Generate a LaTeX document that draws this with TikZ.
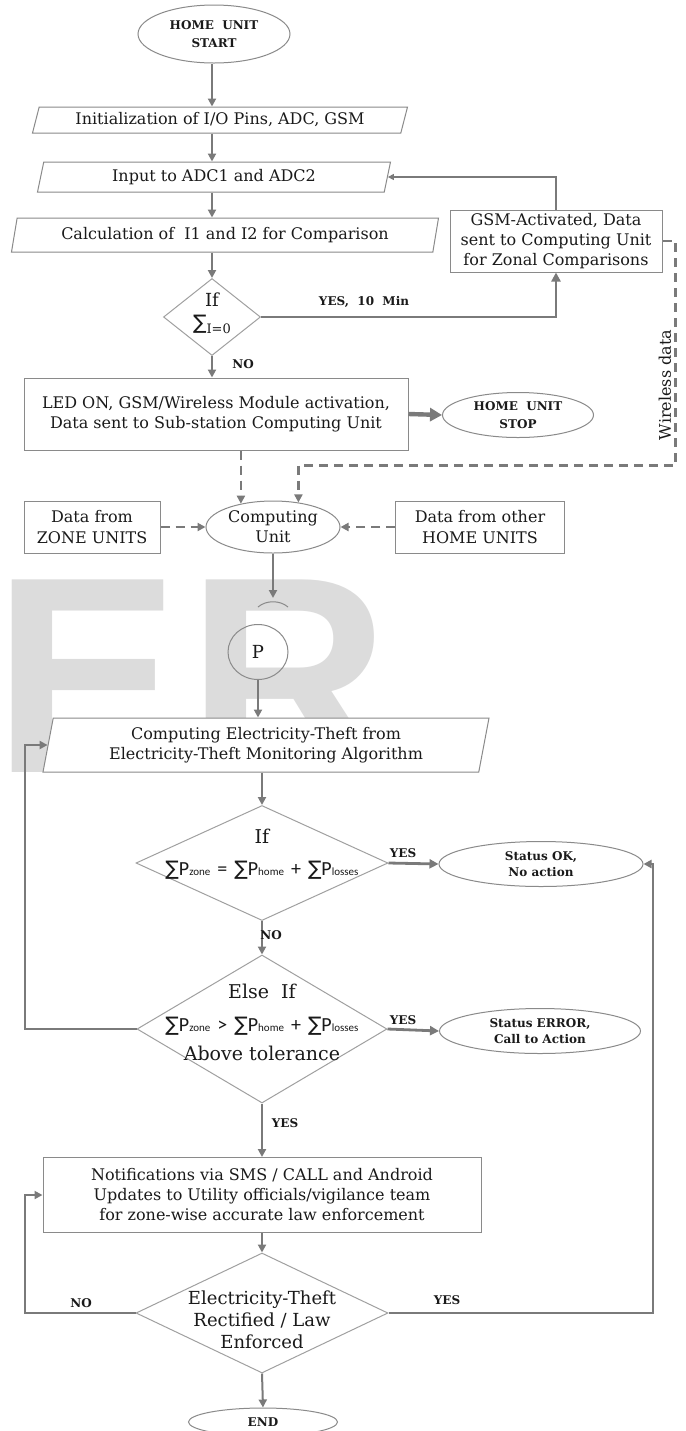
\documentclass[tikz,border=0pt]{standalone}
\usepackage{fontspec}
\setmainfont{DejaVu Serif}
\newfontfamily\sumfont{DejaVu Sans}
\newfontfamily\formfont{Carlito}
\newfontfamily\wmfont{Liberation Sans}
\usetikzlibrary{shapes.geometric,arrows.meta,calc}

\definecolor{ln}{HTML}{7A7A7A}
\definecolor{bd}{HTML}{8A8A8A}
\definecolor{dbd}{HTML}{A0A0A0}
\definecolor{wm}{HTML}{DCDCDC}
\definecolor{tx}{HTML}{1A1A1A}

\newcommand\mySP[1]{{\sumfont ∑}P{\fontsize{5.5}{5.5}\selectfont #1}}

\tikzset{
  base/.style={draw=bd, line width=0.5pt, fill=white, text=tx, inner sep=0pt, align=center,
    font=\fontsize{8}{10}\selectfont},
  boxnode/.style={base, rectangle},
  para/.style 2 args={base, trapezium, trapezium stretches body,
    trapezium left angle=#1, trapezium right angle=#2},
  oval/.style={base, ellipse},
  dia/.style={draw=dbd, line width=0.5pt, fill=white, diamond, inner sep=0pt},
  txt/.style={text=tx, inner sep=0pt, align=center},
  lbl/.style={text=tx, inner sep=0pt, font=\bfseries\fontsize{6}{9}\selectfont, align=center},
  flow/.style={draw=ln, line width=1pt, -{Triangle[length=4pt,width=4pt]}},
  flowmid/.style={draw=ln, line width=1.4pt, -{Triangle[length=4.5pt,width=4.5pt]}},
  flowbig/.style={draw=ln, line width=2.2pt, -{Triangle[length=6pt,width=6.5pt]}},
  flowthin/.style={draw=ln, line width=0.6pt, -{Triangle[length=3pt,width=3pt]}},
  dflow/.style={draw=ln, line width=1.3pt, dash pattern=on 4.5pt off 3pt, -{Triangle[length=4pt,width=4pt]}},
  wmark/.style={anchor=base west, inner sep=0pt, text=wm, font=\wmfont\bfseries\fontsize{140}{140}\selectfont}
}

\begin{document}
\begin{tikzpicture}[x=0.5pt,y=-0.5pt]
\fill[white] (0,0) rectangle (686,1431);
\useasboundingbox (0,0) rectangle (686,1431);

% watermark
\node[wmark] (wmE) at (-7,772) {E};
\node[wmark] (wmR) at (187,772) {R};

% axis helpers
\coordinate (ax) at (212,0);
\coordinate (lx) at (25,0);
\coordinate (rx) at (653,0);

% home unit part
\node[oval, minimum width=76pt, minimum height=29pt, font=\bfseries\fontsize{6}{9}\selectfont] (start) at (214,34) {HOME\ \ UNIT\\START};
\node[para={65}{115}, minimum width=187.5pt, minimum height=13pt] (init) at (220,120) {Initialization of I/O Pins, ADC, GSM};
\node[para={68}{112}, minimum width=176.5pt, minimum height=15pt] (input) at (214,177) {Input to ADC1 and ADC2};
\node[para={70}{110}, minimum width=213.5pt, minimum height=17pt] (calc) at (225,235) {Calculation of\ \ I1 and I2 for Comparison};
\node[dia, minimum width=48.5pt, minimum height=38.5pt] (d1) at (212,317) {};
\node[txt, font=\fontsize{9}{11.5}\selectfont] (d1t) at (212,313) {If\\{\sumfont\fontsize{10}{10}\selectfont ∑}\raisebox{-2pt}{\fontsize{6.5}{6.5}\selectfont I=0}};
\node[boxnode, minimum width=106pt, minimum height=31pt] (gsm) at (556,241) {GSM-Activated, Data\\sent to Computing Unit\\for Zonal Comparisons};
\node[boxnode, minimum width=192pt, minimum height=36pt] (led) at (216,414) {LED ON, GSM/Wireless Module activation,\\Data sent to Sub-station Computing Unit};
\node[oval, minimum width=75.5pt, minimum height=22.5pt, font=\bfseries\fontsize{6}{9}\selectfont] (stop) at (518,415) {HOME\ \ UNIT\\STOP};

% computing unit part
\node[oval, minimum width=67pt, minimum height=26pt, font=\fontsize{8}{10}\selectfont] (cu) at (273,527) {Computing\\Unit};
\node[boxnode, minimum width=68pt, minimum height=26pt, font=\fontsize{8}{10.5}\selectfont] (zone) at (92,527) {Data from\\ZONE UNITS};
\node[boxnode, minimum width=84.5pt, minimum height=26pt, font=\fontsize{8}{10.5}\selectfont] (homes) at (480,527) {Data from other\\HOME UNITS};
\coordinate (ptop) at (273,598);
\node[draw=bd, line width=0.5pt, ellipse, minimum width=30pt, minimum height=27.5pt, inner sep=0pt, text=tx, font=\fontsize{9}{9}\selectfont] (P) at (258,652) {P};

% algorithm part
\node[para={74}{106}, minimum width=223pt, minimum height=27pt] (comp) at (266,745) {Computing Electricity-Theft from\\Electricity-Theft Monitoring Algorithm};
\node[dia, minimum width=126pt, minimum height=57.5pt] (d2) at (262,863) {};
\node[txt, font=\fontsize{9.5}{9.5}\selectfont] (d2a) at (262,836) {If};
\node[txt, font=\formfont\fontsize{10}{10}\selectfont] (d2b) at (262,870) {\mySP{zone}\hspace{3.5pt}=\hspace{3.5pt}\mySP{home}\hspace{3.5pt}+\hspace{3.5pt}\mySP{losses}};
\node[oval, minimum width=102pt, minimum height=22.5pt, font=\bfseries\fontsize{6}{8}\selectfont] (ok) at (541,864) {Status OK,\\No action};

\node[dia, minimum width=125pt, minimum height=74pt] (d3) at (262,1029) {};
\node[txt, font=\fontsize{9.5}{9.5}\selectfont] (d3a) at (262,991) {Else\ \ If};
\node[txt, font=\formfont\fontsize{10}{10}\selectfont] (d3b) at (262,1026) {\mySP{zone}\hspace{3.5pt}>\hspace{3.5pt}\mySP{home}\hspace{3.5pt}+\hspace{3.5pt}\mySP{losses}};
\node[txt, font=\fontsize{9.5}{9.5}\selectfont] (d3c) at (262,1053) {Above tolerance};
\node[oval, minimum width=100.5pt, minimum height=22.5pt, font=\bfseries\fontsize{6}{8}\selectfont] (err) at (540,1031) {Status ERROR,\\Call to Action};

\node[boxnode, minimum width=219pt, minimum height=37.5pt] (notif) at (262,1195) {Notifications via SMS / CALL and Android\\Updates to Utility officials/vigilance team\\for zone-wise accurate law enforcement};
\node[dia, minimum width=126pt, minimum height=60pt] (d4) at (262,1313) {};
\node[txt, font=\fontsize{9}{11}\selectfont] (d4t) at (262,1320) {Electricity-Theft\\Rectified / Law\\Enforced};
\node[oval, minimum width=74.5pt, minimum height=14pt, font=\bfseries\fontsize{6}{8}\selectfont] (end) at (263,1422) {END};

% connectors: home unit
\draw[flow] (ax |- start.south) -- (ax |- init.north);
\draw[flow] (ax |- init.south) -- (ax |- input.north);
\draw[flow] (ax |- input.south) -- (ax |- calc.north);
\draw[flow] (ax |- calc.south) -- (d1.north);
\draw[flow] (d1.south) -- (ax |- led.north);
\draw[flowmid] (d1.east) -| (gsm.south);
\draw[flowthin] (gsm.north) |- (input.east);
\draw[flowbig] (led.east) -- (stop.west);
\node[lbl] (yes1) at (364,302) {YES,\ \ 10\ \ Min};
\node[lbl] (no1) at (243,364) {NO};

% wireless dashed links
\draw[dflow] (cu.144 |- led.south) -- (cu.144);
\draw[dflow] (gsm.east) -- ++(13,0) |- ($(cu.44)+(0,-37)$) -- (cu.44);
\node[txt, rotate=90, font=\fontsize{8}{8}\selectfont] (wl) at (665,385) {Wireless data};
\draw[dflow] (zone.east) -- (cu.west);
\draw[dflow] (homes.west) -- (cu.east);
\draw[flow] (cu.south) -- (ptop);
\draw[draw=bd, line width=0.5pt] (258,607) .. controls (266,600) and (280,600) .. (288,607);
\draw[flow] (P.south) -- (P.south |- comp.north);

% algorithm connectors
\draw[flow] (d2.north |- comp.south) -- (d2.north);
\draw[flowmid] (d2.east) -- (ok.west);
\node[lbl] (yes2) at (403,853) {YES};
\draw[flow] (d2.south) -- (d3.north);
\node[lbl] (no2) at (271,935) {NO};
\draw[flow] (d3.west) -| (lx |- comp.west) -- (comp.west);
\draw[flowmid] (d3.east) -- (err.west);
\node[lbl] (yes3) at (403,1020) {YES};
\draw[flow] (d3.south) -- (notif.north);
\node[lbl] (yes4) at (285,1123) {YES};
\draw[flow] (notif.south) -- (d4.north);
\draw[flow] (d4.west) -| (lx |- notif.west) -- (notif.west);
\node[lbl] (no3) at (81,1303) {NO};
\draw[flow] (d4.east) -| (rx |- ok.east) -- (ok.east);
\node[lbl] (yes5) at (447,1300) {YES};
\draw[flow] (d4.south) -- (end.north);
\end{tikzpicture}
\end{document}
